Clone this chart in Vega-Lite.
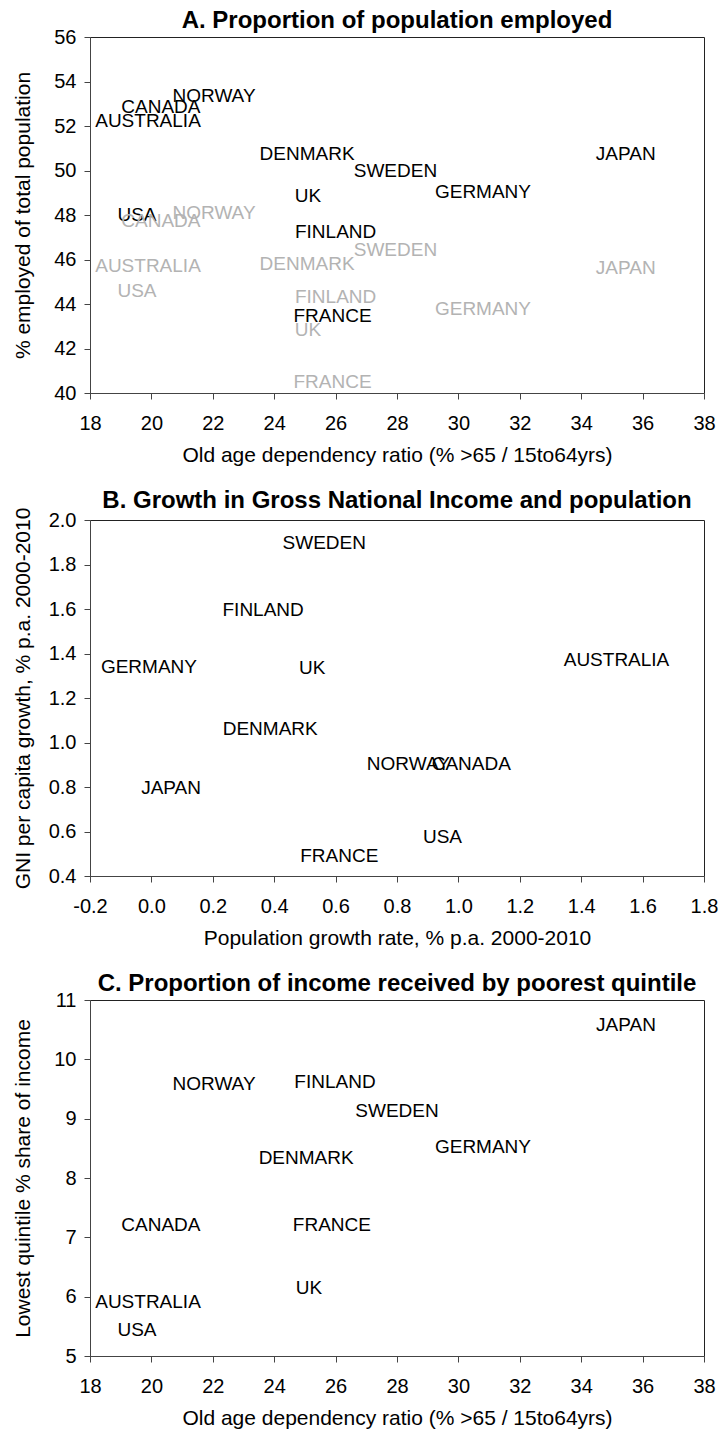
{
  "$schema": "https://vega.github.io/schema/vega-lite/v6.json",
  "padding": {"left": 11, "top": 8, "right": 0, "bottom": 0},
  "background": "white",
  "config": {
    "font": "Liberation Sans",
    "view": {"stroke": "#222222", "strokeWidth": 1},
    "axis": {
      "grid": false,
      "domainColor": "#444444",
      "tickColor": "#444444",
      "tickSize": 6,
      "labelFontSize": 20,
      "labelColor": "#000000",
      "labelFont": "Liberation Sans",
      "labelFlush": false,
      "labelOverlap": false,
      "titleFont": "Liberation Sans",
      "titleFontSize": 21,
      "titleFontWeight": "normal",
      "titleColor": "#000000",
      "labelPadding": 8
    },
    "axisX": {"labelPadding": 14, "titlePadding": 11},
    "axisY": {"minExtent": 44, "maxExtent": 44, "titlePadding": 13},
    "title": {"fontSize": 24, "fontWeight": "bold", "anchor": "middle", "frame": "group", "offset": -6, "color": "#000000", "font": "Liberation Sans"},
    "concat": {"spacing": 22}
  },
  "datasets": {
    "employment": [
      {"country": "NORWAY", "dependency": 22.04, "employed": 53.36, "series": "current"},
      {"country": "CANADA", "dependency": 20.31, "employed": 52.87, "series": "current"},
      {"country": "AUSTRALIA", "dependency": 19.89, "employed": 52.24, "series": "current"},
      {"country": "DENMARK", "dependency": 25.07, "employed": 50.72, "series": "current"},
      {"country": "SWEDEN", "dependency": 27.95, "employed": 49.96, "series": "current"},
      {"country": "GERMANY", "dependency": 30.8, "employed": 49.02, "series": "current"},
      {"country": "JAPAN", "dependency": 35.45, "employed": 50.72, "series": "current"},
      {"country": "UK", "dependency": 25.1, "employed": 48.84, "series": "current"},
      {"country": "USA", "dependency": 19.53, "employed": 47.99, "series": "current"},
      {"country": "FINLAND", "dependency": 26.0, "employed": 47.23, "series": "current"},
      {"country": "FRANCE", "dependency": 25.9, "employed": 43.47, "series": "current"},
      {"country": "NORWAY", "dependency": 22.04, "employed": 48.08, "series": "earlier"},
      {"country": "CANADA", "dependency": 20.31, "employed": 47.72, "series": "earlier"},
      {"country": "SWEDEN", "dependency": 27.95, "employed": 46.42, "series": "earlier"},
      {"country": "AUSTRALIA", "dependency": 19.89, "employed": 45.71, "series": "earlier"},
      {"country": "DENMARK", "dependency": 25.07, "employed": 45.8, "series": "earlier"},
      {"country": "JAPAN", "dependency": 35.45, "employed": 45.62, "series": "earlier"},
      {"country": "USA", "dependency": 19.53, "employed": 44.59, "series": "earlier"},
      {"country": "FINLAND", "dependency": 26.0, "employed": 44.32, "series": "earlier"},
      {"country": "GERMANY", "dependency": 30.8, "employed": 43.78, "series": "earlier"},
      {"country": "UK", "dependency": 25.1, "employed": 42.84, "series": "earlier"},
      {"country": "FRANCE", "dependency": 25.9, "employed": 40.51, "series": "earlier"}
    ],
    "growth": [
      {"country": "SWEDEN", "popgrowth": 0.563, "gnigrowth": 1.896},
      {"country": "FINLAND", "popgrowth": 0.364, "gnigrowth": 1.595},
      {"country": "GERMANY", "popgrowth": -0.008, "gnigrowth": 1.338},
      {"country": "UK", "popgrowth": 0.524, "gnigrowth": 1.333},
      {"country": "AUSTRALIA", "popgrowth": 1.515, "gnigrowth": 1.369},
      {"country": "DENMARK", "popgrowth": 0.387, "gnigrowth": 1.059},
      {"country": "JAPAN", "popgrowth": 0.064, "gnigrowth": 0.797},
      {"country": "FRANCE", "popgrowth": 0.612, "gnigrowth": 0.491},
      {"country": "NORWAY", "popgrowth": 0.837, "gnigrowth": 0.905},
      {"country": "CANADA", "popgrowth": 1.042, "gnigrowth": 0.905},
      {"country": "USA", "popgrowth": 0.948, "gnigrowth": 0.577}
    ],
    "income": [
      {"country": "JAPAN", "dependency": 35.46, "share": 10.58},
      {"country": "NORWAY", "dependency": 22.04, "share": 9.58},
      {"country": "FINLAND", "dependency": 25.98, "share": 9.62},
      {"country": "SWEDEN", "dependency": 28.0, "share": 9.13},
      {"country": "GERMANY", "dependency": 30.8, "share": 8.52},
      {"country": "DENMARK", "dependency": 25.04, "share": 8.34},
      {"country": "CANADA", "dependency": 20.31, "share": 7.21},
      {"country": "FRANCE", "dependency": 25.88, "share": 7.21},
      {"country": "UK", "dependency": 25.13, "share": 6.14},
      {"country": "AUSTRALIA", "dependency": 19.89, "share": 5.91},
      {"country": "USA", "dependency": 19.53, "share": 5.44}
    ]
  },
  "vconcat": [
    {
      "title": "A. Proportion of population employed",
      "width": 614,
      "height": 356,
      "data": {"name": "employment"},
      "mark": {"type": "text", "fontSize": 19, "font": "Liberation Sans", "align": "center", "baseline": "middle"},
      "encoding": {
        "x": {"field": "dependency", "type": "quantitative", "scale": {"domain": [18, 38], "nice": false, "zero": false}, "axis": {"values": [18, 20, 22, 24, 26, 28, 30, 32, 34, 36, 38], "title": "Old age dependency ratio (% >65 / 15to64yrs)"}},
        "y": {"field": "employed", "type": "quantitative", "scale": {"domain": [40, 56], "nice": false, "zero": false}, "axis": {"values": [40, 42, 44, 46, 48, 50, 52, 54, 56], "title": "% employed of total population"}},
        "text": {"field": "country"},
        "color": {"field": "series", "type": "nominal", "scale": {"domain": ["current", "earlier"], "range": ["#000000", "#b3b3b3"]}, "legend": null}
      }
    },
    {
      "title": "B. Growth in Gross National Income and population",
      "width": 614,
      "height": 356,
      "data": {"name": "growth"},
      "mark": {"type": "text", "fontSize": 19, "font": "Liberation Sans", "align": "center", "baseline": "middle", "color": "#000000"},
      "encoding": {
        "x": {"field": "popgrowth", "type": "quantitative", "scale": {"domain": [-0.2, 1.8], "nice": false, "zero": false}, "axis": {"values": [-0.2, 0, 0.2, 0.4, 0.6, 0.8, 1.0, 1.2, 1.4, 1.6, 1.8], "labelExpr": "datum.value < 0 ? '-' + format(-datum.value, '.1f') : format(datum.value, '.1f')", "title": "Population growth rate, % p.a. 2000-2010"}},
        "y": {"field": "gnigrowth", "type": "quantitative", "scale": {"domain": [0.4, 2.0], "nice": false, "zero": false}, "axis": {"values": [0.4, 0.6, 0.8, 1.0, 1.2, 1.4, 1.6, 1.8, 2.0], "format": ".1f", "title": "GNI per capita growth, % p.a. 2000-2010"}},
        "text": {"field": "country"}
      }
    },
    {
      "title": "C. Proportion of income received by poorest quintile",
      "width": 614,
      "height": 356,
      "data": {"name": "income"},
      "mark": {"type": "text", "fontSize": 19, "font": "Liberation Sans", "align": "center", "baseline": "middle", "color": "#000000"},
      "encoding": {
        "x": {"field": "dependency", "type": "quantitative", "scale": {"domain": [18, 38], "nice": false, "zero": false}, "axis": {"values": [18, 20, 22, 24, 26, 28, 30, 32, 34, 36, 38], "title": "Old age dependency ratio (% >65 / 15to64yrs)"}},
        "y": {"field": "share", "type": "quantitative", "scale": {"domain": [5, 11], "nice": false, "zero": false}, "axis": {"values": [5, 6, 7, 8, 9, 10, 11], "title": "Lowest quintile % share of income"}},
        "text": {"field": "country"}
      }
    }
  ]
}
